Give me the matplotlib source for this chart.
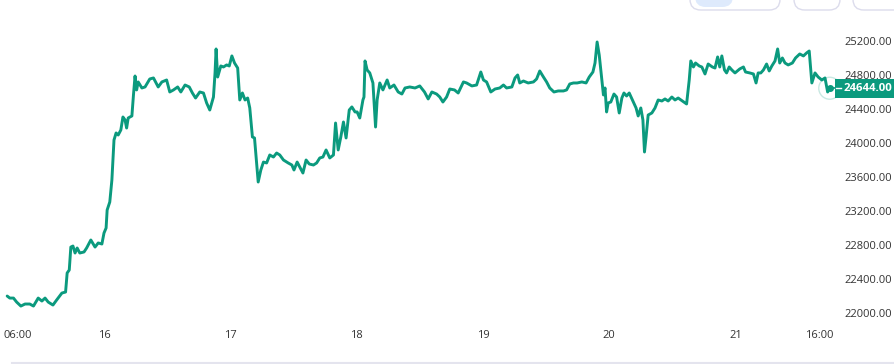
import matplotlib
matplotlib.use("Agg")
import matplotlib.pyplot as plt
from matplotlib.patches import FancyBboxPatch, Rectangle
from matplotlib.lines import Line2D
from matplotlib.transforms import blended_transform_factory, ScaledTranslation

# ---- data: hours since 15 Feb 00:00, price ----
hours = [5.6, 6.1, 6.8, 7.4, 8.2, 9.0, 9.9, 10.6, 11.5, 12.2,
         12.8, 13.4, 14.3, 15.0, 16.0, 16.7, 17.0, 17.4, 17.7, 18.1,
         18.5, 18.9, 19.4, 20.2, 20.7, 21.5, 22.3, 22.9, 23.6, 24.0,
         24.4, 24.6, 25.1, 25.5, 25.9, 26.3, 26.7, 27.2, 27.6, 28.0,
         28.3, 28.6, 29.3, 29.6, 29.9, 30.2, 30.5,
         31.2, 31.8, 32.7, 33.4, 34.3, 35.0, 35.9, 36.5, 37.2, 38.0,
         38.6, 39.4, 40.2, 40.8, 41.4, 42.2, 42.9, 43.5, 44.1, 44.8,
         45.1, 45.3, 45.6, 46.2, 46.7, 47.3, 47.8, 48.3, 48.8, 49.4,
         49.8, 50.3, 50.8, 51.3, 51.7, 52.2, 52.6, 52.9, 53.3, 53.8,
         54.3, 54.9, 55.5,
         56.2, 56.8, 57.4, 58.1, 59.0, 59.7, 60.1, 60.7, 61.2, 61.8,
         62.4, 63.0, 63.8, 64.4, 65.0, 65.6, 66.2, 66.9, 67.6, 68.0,
         68.5, 69.0, 69.5, 70.0, 70.6, 71.1, 71.7, 72.1, 72.6, 73.2,
         73.4, 73.6, 74.0, 74.5, 75.1, 75.6, 75.9, 76.4, 77.0, 77.4,
         77.8, 78.3, 79.1, 79.9, 80.6, 81.2,
         82.1, 83.1, 84.0, 84.9, 85.6, 86.3, 87.2, 87.8, 88.4, 89.1,
         89.7, 90.6, 91.3, 92.3, 92.9, 93.9, 94.8, 95.6, 96.1, 96.7,
         97.5, 98.3, 99.2, 99.9, 100.5, 101.5, 102.1, 102.6, 103.0, 103.7,
         104.6, 105.6, 106.2, 106.8,
         107.5, 108.1, 108.7, 109.5, 110.3, 111.3, 111.9, 112.5, 113.2, 113.9,
         114.8, 115.6, 116.2, 116.9, 117.3, 117.7, 118.1, 118.6, 118.9, 119.2,
         119.5, 119.8, 120.3, 120.9, 121.4, 121.9, 122.4, 122.8, 123.3, 123.8,
         124.5, 125.1, 125.5, 126.0, 126.4, 126.7, 127.0, 127.4, 128.1, 128.7,
         129.3, 130.0, 130.6, 131.2, 131.9, 132.5,
         133.1, 133.9, 134.7, 135.2, 135.5, 136.0, 136.4, 137.1, 137.6, 138.2,
         138.8, 139.6, 140.1, 140.6, 141.0, 141.4, 141.9, 142.3, 142.8, 143.3,
         143.9, 144.8, 145.5, 145.9, 146.7, 147.4, 147.9, 148.3, 148.8, 149.3,
         149.9, 150.4, 150.9, 151.5, 152.0, 152.4, 152.9, 153.4, 154.0, 154.8,
         155.4, 156.2, 156.9, 157.5, 158.0, 158.5, 159.1, 159.7, 160.4, 161.0,
         161.5, 161.9]

prices = [22200, 22176, 22176, 22129, 22082, 22106, 22106, 22082, 22176, 22141,
          22176, 22129, 22094, 22153, 22235, 22247, 22471, 22506, 22776, 22788,
          22706, 22765, 22706, 22718, 22765, 22859, 22776, 22824, 22812, 22941,
          23000, 23212, 23306, 23565, 24035, 24118, 24094, 24153, 24306, 24271,
          24176, 24294, 24318, 24565, 24788, 24624, 24718,
          24647, 24659, 24753, 24765, 24659, 24718, 24741, 24600, 24624, 24659,
          24600, 24682, 24659, 24588, 24529, 24600, 24588, 24471, 24388, 24541,
          24824, 25106, 24776, 24906, 24894, 24918, 24906, 25024, 24941, 24882,
          24506, 24588, 24506, 24529, 24412, 24071, 24059, 23835, 23541, 23682,
          23776, 23765, 23859,
          23835, 23882, 23859, 23800, 23765, 23741, 23682, 23776, 23718, 23647,
          23800, 23753, 23741, 23765, 23824, 23835, 23918, 23824, 23859, 24235,
          23918, 24071, 24247, 24059, 24388, 24424, 24365, 24365, 24294, 24506,
          24541, 24965, 24859, 24824, 24706, 24188, 24506, 24706, 24624, 24682,
          24741, 24647, 24682, 24600, 24576, 24647,
          24659, 24647, 24671, 24600, 24518, 24600, 24576, 24541, 24482, 24541,
          24635, 24624, 24588, 24718, 24706, 24671, 24682, 24835, 24741, 24718,
          24600, 24635, 24647, 24682, 24647, 24659, 24765, 24800, 24706, 24729,
          24706, 24718, 24753, 24847,
          24776, 24718, 24647, 24600, 24612, 24612, 24624, 24694, 24706, 24706,
          24718, 24706, 24776, 24835, 24941, 25188, 25035, 24741, 24565, 24647,
          24365, 24471, 24482, 24576, 24541, 24353, 24529, 24588, 24553, 24588,
          24494, 24412, 24318, 24412, 24271, 23894, 24071, 24329, 24353, 24412,
          24506, 24494, 24518, 24494, 24541, 24506,
          24529, 24494, 24459, 24741, 24965, 24894, 24941, 24906, 24894, 24812,
          24929, 24894, 24882, 25012, 24894, 25024, 24859, 24824, 24894, 24859,
          24824, 24871, 24894, 24835, 24824, 24812, 24706, 24824, 24824, 24859,
          24929, 24847, 24906, 24965, 25106, 24941, 25000, 24941, 24918, 24941,
          25000, 25047, 25024, 25059, 25082, 24706, 24824, 24776, 24741, 24765,
          24600, 24644]

last_price = 24644.00
x_tick_pos = [6, 24, 48, 72, 96, 120, 144, 160]
x_tick_labels = ["06:00", "16", "17", "18", "19", "20", "21", "16:00"]
y_ticks = [22000, 22400, 22800, 23200, 23600, 24000, 24400, 24800, 25200]

GREEN = "#0b9a7e"
TEXT = "#333333"
FONT = "Open Sans"

W, H = 895, 364
fig = plt.figure(figsize=(W / 100, H / 100), dpi=100)
fig.patch.set_facecolor("white")

def fx(px):
    return px / W

def fy(py):
    return 1 - py / H

ax = fig.add_axes([0, fy(320), fx(835), (320 - 30) / H])
ax.set_facecolor("none")
ax.plot(hours, prices, color=GREEN, lw=2.1, solid_joinstyle="round",
        solid_capstyle="round", zorder=3)

ax.set_xlim(4.24, 162.9)
ax.set_ylim(21918, 25329)
for s in ax.spines.values():
    s.set_visible(False)

ax.set_xticks(x_tick_pos)
ax.set_xticklabels(x_tick_labels, fontsize=8, color=TEXT, family=FONT)
ax.set_yticks(y_ticks)
ax.set_yticklabels([f"{v:.2f}" for v in y_ticks], fontsize=8, color=TEXT, family=FONT)
ax.yaxis.tick_right()
ax.tick_params(axis="x", length=0, pad=7)
ax.tick_params(axis="y", length=0, pad=6.5)
# first time label sits slightly right of its tick
lab0 = ax.get_xticklabels()[0]
lab0.set_transform(lab0.get_transform() + ScaledTranslation(8.5 / 100, 0, fig.dpi_scale_trans))

# last-value marker
ax.scatter([hours[-1]], [prices[-1]], s=250, facecolors="none",
           edgecolors=(0.04, 0.6, 0.49, 0.22), linewidths=1.0, zorder=4, clip_on=False)
ax.scatter([hours[-1]], [prices[-1]], s=16, color=GREEN, zorder=5, clip_on=False)

# price label on axis
bt = blended_transform_factory(ax.transAxes, ax.transData)
ppu = 290 / (25329 - 21918)  # pixels per price unit
box_h = 19 / ppu
ax.add_patch(Rectangle((1.0, last_price - box_h / 2), 62 / 835, box_h, transform=bt,
                       facecolor=GREEN, edgecolor="none", clip_on=False, zorder=6))
ax.add_line(Line2D([1.0 - 5 / 835, 1.0], [last_price, last_price], transform=bt,
                   color=GREEN, lw=1.2, clip_on=False, zorder=6))
ax.add_line(Line2D([1.0 + 1 / 835, 1.0 + 6 / 835], [last_price, last_price], transform=bt,
                   color="white", lw=1.0, clip_on=False, zorder=7))
ax.text(1.0 + 9 / 835, last_price, f"{last_price:.2f}", transform=bt, ha="left",
        va="center", color="white", fontsize=8.2, fontweight="bold", family=FONT,
        zorder=7, clip_on=False)

# top buttons (partially visible)
def button(x0, x1, y1, fc="white", ec="#dcdcec"):
    p = FancyBboxPatch((fx(x0), fy(y1)), fx(x1 - x0), 30 / H,
                       boxstyle="round,pad=0,rounding_size=0.012",
                       transform=fig.transFigure, facecolor=fc, edgecolor=ec,
                       lw=1.0, mutation_aspect=W / H)
    fig.add_artist(p)

button(690, 780, 10)
button(695, 733, 7, fc="#deeafc", ec="none")
button(794, 840, 10)
button(853, 915, 10)

# bottom separator
fig.add_artist(Line2D([fx(12), 1.0], [fy(362.5), fy(362.5)], transform=fig.transFigure,
                      color="#e4e4ee", lw=1.5))

fig.savefig("out.png", dpi=100, facecolor="white")
